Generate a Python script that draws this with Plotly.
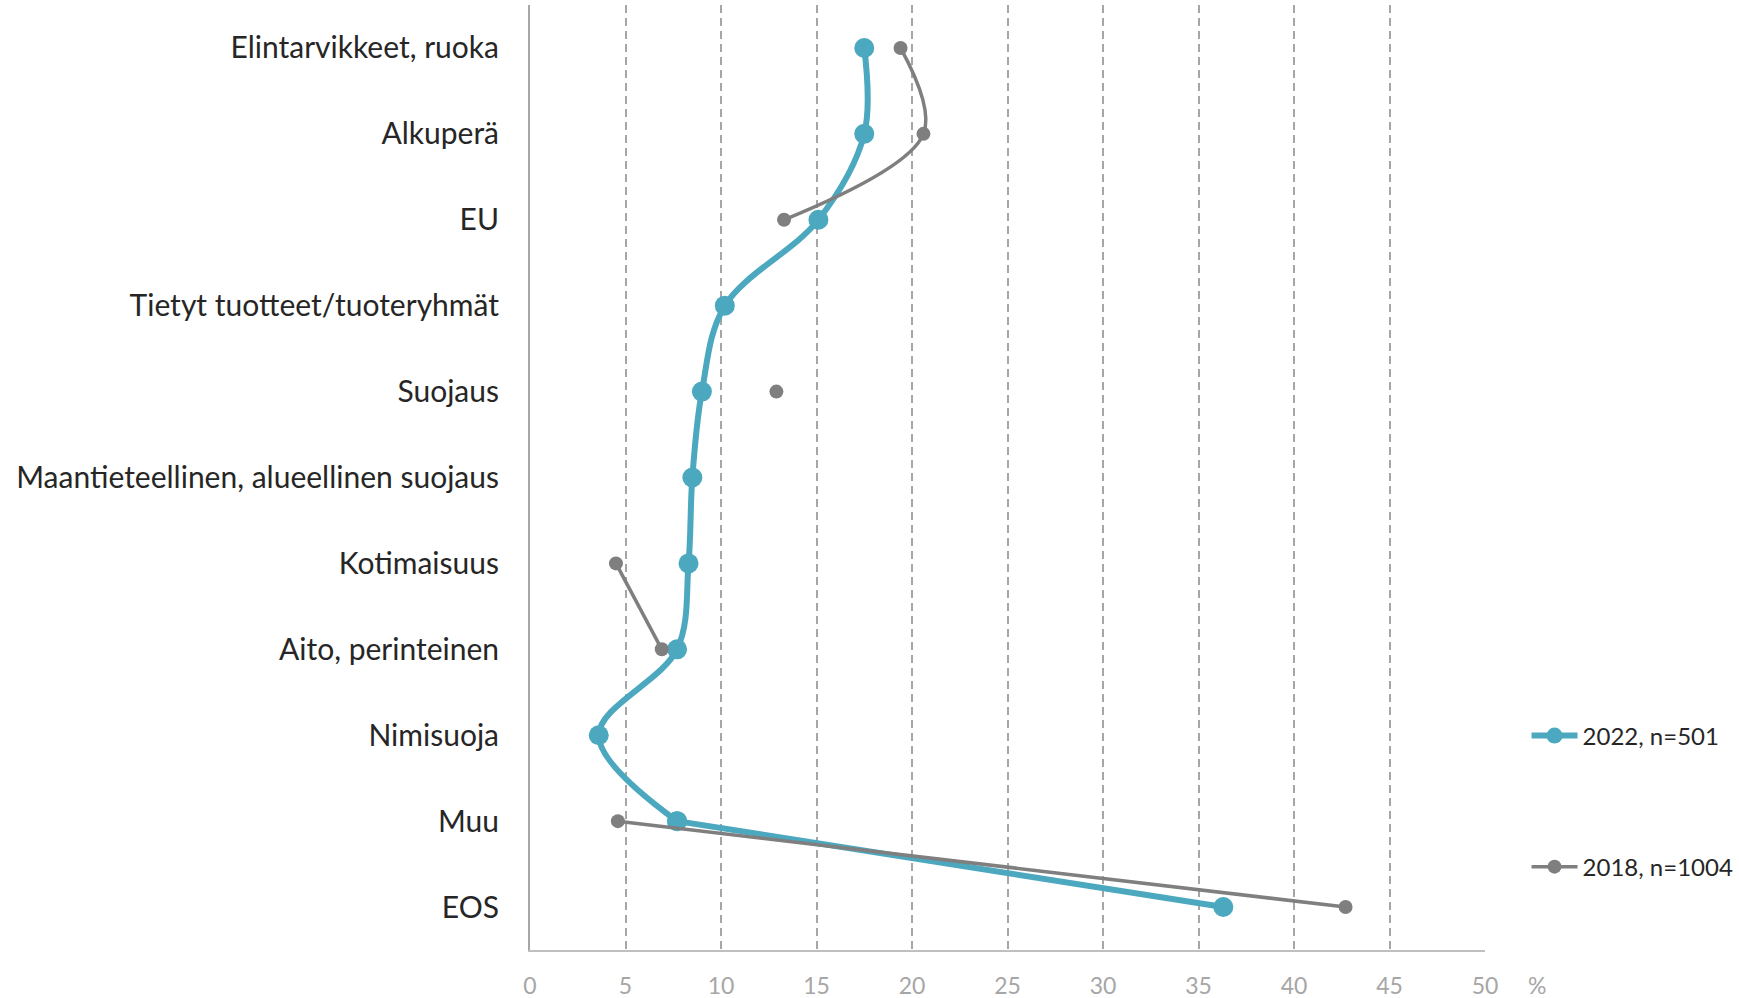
import plotly.graph_objects as go

# Categories, top to bottom
categories = [
    "Elintarvikkeet, ruoka",
    "Alkuperä",
    "EU",
    "Tietyt tuotteet/tuoteryhmät",
    "Suojaus",
    "Maantieteellinen, alueellinen suojaus",
    "Kotimaisuus",
    "Aito, perinteinen",
    "Nimisuoja",
    "Muu",
    "EOS",
]

# Shares of respondents (%)
values_2022 = [17.5, 17.5, 15.1, 10.2, 9.0, 8.5, 8.3, 7.7, 3.6, 7.7, 36.3]
values_2018 = [19.4, 20.6, 13.3, None, 12.9, None, 4.5, 6.9, None, 4.6, 42.7]

x_ticks = [0, 5, 10, 15, 20, 25, 30, 35, 40, 45, 50]

TEAL = "#4BA8BF"
GREY = "#7F7F7F"
AXIS_GREY = "#A6A6A6"
FONT = "Lato"

fig = go.Figure()

# 2022: smoothed curve down to "Muu", then a straight run to the last point
curve_2022 = values_2022[:-1] + [None]
tail_2022 = [None] * (len(values_2022) - 2) + values_2022[-2:]

fig.add_trace(go.Scatter(
    x=tail_2022, y=categories,
    mode="lines+markers",
    showlegend=False, hoverinfo="skip",
    connectgaps=False,
    line=dict(color=TEAL, width=6),
    marker=dict(color=TEAL, size=20),
))

fig.add_trace(go.Scatter(
    x=curve_2022, y=categories,
    mode="lines+markers",
    name="2022, n=501",
    connectgaps=False,
    line=dict(color=TEAL, width=6, shape="spline", smoothing=1.0),
    marker=dict(color=TEAL, size=20),
    legend="legend",
))

fig.add_trace(go.Scatter(
    x=values_2018, y=categories,
    mode="lines+markers",
    name="2018, n=1004",
    connectgaps=False,
    line=dict(color=GREY, width=3.5, shape="spline", smoothing=1.0),
    marker=dict(color=GREY, size=14),
    legend="legend2",
))

fig.update_layout(
    width=1739, height=998,
    margin=dict(l=530, r=254, t=5, b=48, autoexpand=False),
    paper_bgcolor="white", plot_bgcolor="white",
    font=dict(family=FONT, color="#262626"),
    showlegend=True,
    legend=dict(
        x=1.0435, y=0.2265, xanchor="left", yanchor="middle",
        font=dict(size=24, family=FONT, color="#262626"),
        bgcolor="rgba(0,0,0,0)", itemwidth=46,
    ),
    legend2=dict(
        x=1.0435, y=0.0878, xanchor="left", yanchor="middle",
        font=dict(size=24, family=FONT, color="#262626"),
        bgcolor="rgba(0,0,0,0)", itemwidth=46,
    ),
    annotations=[dict(
        text="%", x=1.054, xref="paper", y=0, yref="paper",
        yshift=-35, showarrow=False, xanchor="center", yanchor="middle",
        font=dict(size=23, family=FONT, color=AXIS_GREY),
    )],
)

fig.update_xaxes(
    range=[0, 50], tickvals=x_ticks, ticktext=[str(v) for v in x_ticks],
    showgrid=True, gridcolor=AXIS_GREY, gridwidth=1.5, griddash="8px,5px",
    zeroline=False, automargin=False,
    showline=True, linecolor="#BFBFBF", linewidth=2,
    ticks="outside", ticklen=14, tickcolor="rgba(0,0,0,0)",
    tickfont=dict(size=23, family=FONT, color=AXIS_GREY),
)

fig.update_yaxes(
    type="category", categoryorder="array", categoryarray=categories,
    range=[len(categories) - 0.5, -0.5],
    showgrid=False, zeroline=False, automargin=False,
    showline=True, linecolor=AXIS_GREY, linewidth=2,
    ticks="outside", ticklen=23, tickcolor="rgba(0,0,0,0)",
    tickfont=dict(size=30, family=FONT, color="#262626"),
)

fig.write_html("out.html")
